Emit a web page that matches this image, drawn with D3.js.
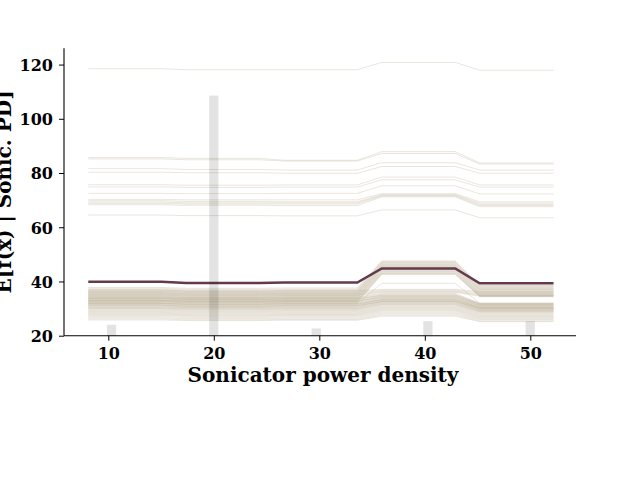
<!DOCTYPE html>
<html><head><meta charset="utf-8">
<script src="https://cdn.jsdelivr.net/npm/d3@7"></script>
<style>body{margin:0;background:#fff} svg{display:block}</style>
</head><body><svg id="c" width="640" height="480"></svg>
<script>
// x ranges of the five constant pieces of the model (grid points)
const segments = [[8.1,15.06],[17.38,24.32],[26.64,33.6],[35.92,42.88],[45.2,52.2]];

// ICE lines: level on each piece
const iceUpper = [
  [118.5,118.1,118.1,120.8,117.9],
  [85.7,85.4,84.7,87.9,83.7],
  [85.2,84.9,84.4,87.2,83.3],
  [81.6,81.3,81.1,83.8,81.1],
  [80.3,80.1,79.9,82.4,79.9],
  [75.7,75.5,75.6,78.5,75.6],
  [74.9,74.7,74.8,77.5,74.8],
  [72.5,72.4,72.5,75.3,72.3],
  [70.3,70.1,70.1,72.4,69.4],
  [69.8,69.5,69.4,72.0,68.9],
  [69.3,69.0,69.0,71.8,68.4],
  [68.8,68.6,68.6,71.5,68.0],
  [68.3,68.1,68.0,71.2,67.6],
  [64.5,64.3,64.2,66.4,63.5]
];
const iceLower = [
  [37.8,37.5,37.6,47.6,38.6],[37.5,37.1,37.2,47.3,38.4],[37.1,36.8,36.9,47.0,38.1],
  [36.9,36.5,36.6,46.8,37.9],[36.6,36.3,36.4,46.5,37.6],[36.4,36.0,36.2,46.3,37.5],
  [36.1,35.8,35.9,46.0,37.2],[35.9,35.5,35.7,45.8,37.0],[35.7,35.3,35.5,45.6,36.9],
  [35.5,35.1,35.3,45.4,36.6],[35.2,34.9,35.0,45.1,36.4],[35.0,34.7,34.8,44.9,36.1],
  [34.8,34.4,34.6,44.7,35.9],[34.6,34.2,34.4,44.4,35.7],[34.3,34.0,34.1,44.2,35.5],
  [34.1,33.8,33.9,44.0,35.3],[33.9,33.6,33.7,43.7,35.1],[33.6,33.3,33.4,43.5,34.9],
  [33.3,33.0,33.1,43.2,34.8],[33.0,32.8,32.9,43.0,34.6],[32.7,32.5,32.6,42.8,34.5],
  [32.4,32.2,32.3,42.6,34.4],[32.0,31.8,31.9,39.3,32.0],
  [36.8,36.5,36.6,37.1,36.3],[36.3,36.0,36.1,36.8,35.8],[35.8,35.5,35.6,36.5,35.3],
  [35.4,35.0,35.2,36.2,34.9],[35.0,34.6,34.8,36.0,34.6],[34.5,34.1,34.3,35.6,32.0],
  [34.2,33.8,34.0,35.3,31.8],[33.8,33.4,33.6,35.0,31.6],[33.7,33.5,33.6,34.9,31.7],
  [33.5,33.2,33.3,34.7,31.5],[33.2,32.9,33.0,34.5,31.3],[33.0,32.6,32.8,34.3,31.1],
  [32.9,32.6,32.7,34.2,31.2],[32.7,32.3,32.5,34.0,30.9],[32.5,32.1,32.3,33.8,30.8],
  [32.2,31.8,32.0,33.6,30.6],[32.0,31.6,31.8,33.4,30.5],[31.9,31.5,31.7,33.3,30.4],
  [31.8,31.4,31.6,33.2,30.3],[31.6,31.2,31.4,33.0,30.2],[31.4,31.0,31.2,32.8,30.0],
  [31.3,30.9,31.1,32.7,30.1],[31.2,30.8,31.0,32.6,29.9],[31.0,30.6,30.8,32.5,29.7],
  [30.8,30.4,30.6,32.3,29.6],[30.6,30.3,30.4,32.1,29.4],[30.4,30.1,30.2,31.9,29.3],
  [30.2,29.9,30.0,31.7,29.1],[30.0,29.7,29.8,31.5,29.0],[29.8,29.5,29.6,31.3,28.8],
  [29.5,29.2,29.3,31.0,28.6],[29.2,28.9,29.0,30.7,28.3],[28.9,28.6,28.7,30.4,28.0],
  [28.6,28.3,28.4,30.1,27.7],[28.3,28.0,28.1,29.8,27.4],[28.0,27.7,27.8,29.5,27.1],
  [27.7,27.4,27.5,29.2,26.8],[27.4,27.1,27.2,28.8,26.5],[27.0,26.7,26.8,28.4,26.2],
  [26.6,26.3,26.4,28.0,25.9],[26.2,25.9,26.0,27.6,25.5],[25.8,25.6,25.7,27.2,25.2]
];
const pdLevels = [39.9, 39.4, 39.6, 44.8, 39.3];

// histogram of the feature (twin axis, 0..sample count)
const histStart = [9.86, 19.56, 29.27, 39.85, 49.55];
const histEnd   = [10.74, 20.44, 30.15, 40.73, 50.43];
const histCounts = [3, 66, 2, 4, 4];
const sampleCount = 79;

const xTicks = [10, 20, 30, 40, 50];
const yTicks = [20, 40, 60, 80, 100, 120];
const xLabel = "Sonicator power density";
const yLabel = "E[f(x) | Sonic. PD]";

const L = 64, R = 576, T = 48.3, B = 335.7;
const x = d3.scaleLinear().domain([5.8, 54.33]).range([L, R]);
const y = d3.scaleLinear().domain([20, 126]).range([B, T]);
const y2 = d3.scaleLinear().domain([0, sampleCount]).range([B, T]);

const svg = d3.select("#c");
const font = "'DejaVu Serif', serif";

function pts(levels){
  const p = [];
  segments.forEach((s,i)=>{ p.push([s[0], levels[i]]); p.push([s[1], levels[i]]); });
  return p;
}
const line = d3.line().x(d=>x(d[0])).y(d=>y(d[1]));

const g = svg.append("g");
g.selectAll("path.ice").data(iceUpper.concat(iceLower)).enter().append("path")
  .attr("class","ice").attr("d", d=>line(pts(d)))
  .attr("fill","none").attr("stroke","#b5a98d").attr("stroke-opacity",0.32).attr("stroke-width",0.9);
g.append("path").attr("d", line(pts(pdLevels)))
  .attr("fill","none").attr("stroke","#633a4b").attr("stroke-width",2.5);

// histogram bars
svg.selectAll("rect.h").data(histCounts).enter().append("rect")
  .attr("x",(d,i)=>x(histStart[i])).attr("width",(d,i)=>x(histEnd[i])-x(histStart[i]))
  .attr("y",d=>y2(d)).attr("height",d=>B-y2(d))
  .attr("fill","#000").attr("fill-opacity",0.11);

// axes
const xa = svg.append("g").attr("transform",`translate(0,${B})`)
  .call(d3.axisBottom(x).tickValues(xTicks).tickSize(5).tickPadding(7).tickFormat(d3.format("d")));
const ya = svg.append("g").attr("transform",`translate(${L},0)`)
  .call(d3.axisLeft(y).tickValues(yTicks).tickSize(5).tickPadding(6).tickFormat(d3.format("d")));
[xa, ya].forEach(a=>{
  a.selectAll("text").attr("font-family",font).attr("font-weight","bold").attr("font-size",16).attr("fill","#000");
  a.selectAll("line").attr("stroke","#000").attr("stroke-width",1);
  a.select(".domain").attr("stroke","#000").attr("stroke-width",1.1);
});
xa.selectAll("text").attr("dy","0.71em");
ya.selectAll("text").attr("dy","0.36em");
xa.select(".domain").attr("d",`M${L},0H${R}`);
ya.select(".domain").attr("d",`M0,${T}V${B}`);

svg.append("text").attr("x",323).attr("y",382).attr("text-anchor","middle")
  .attr("font-family",font).attr("font-weight","bold").attr("font-size",20).text(xLabel);
svg.append("text").attr("transform",`translate(11,${(T+B)/2}) rotate(-90)`).attr("text-anchor","middle")
  .attr("font-family",font).attr("font-weight","bold").attr("font-size",20).text(yLabel);
</script></body></html>
